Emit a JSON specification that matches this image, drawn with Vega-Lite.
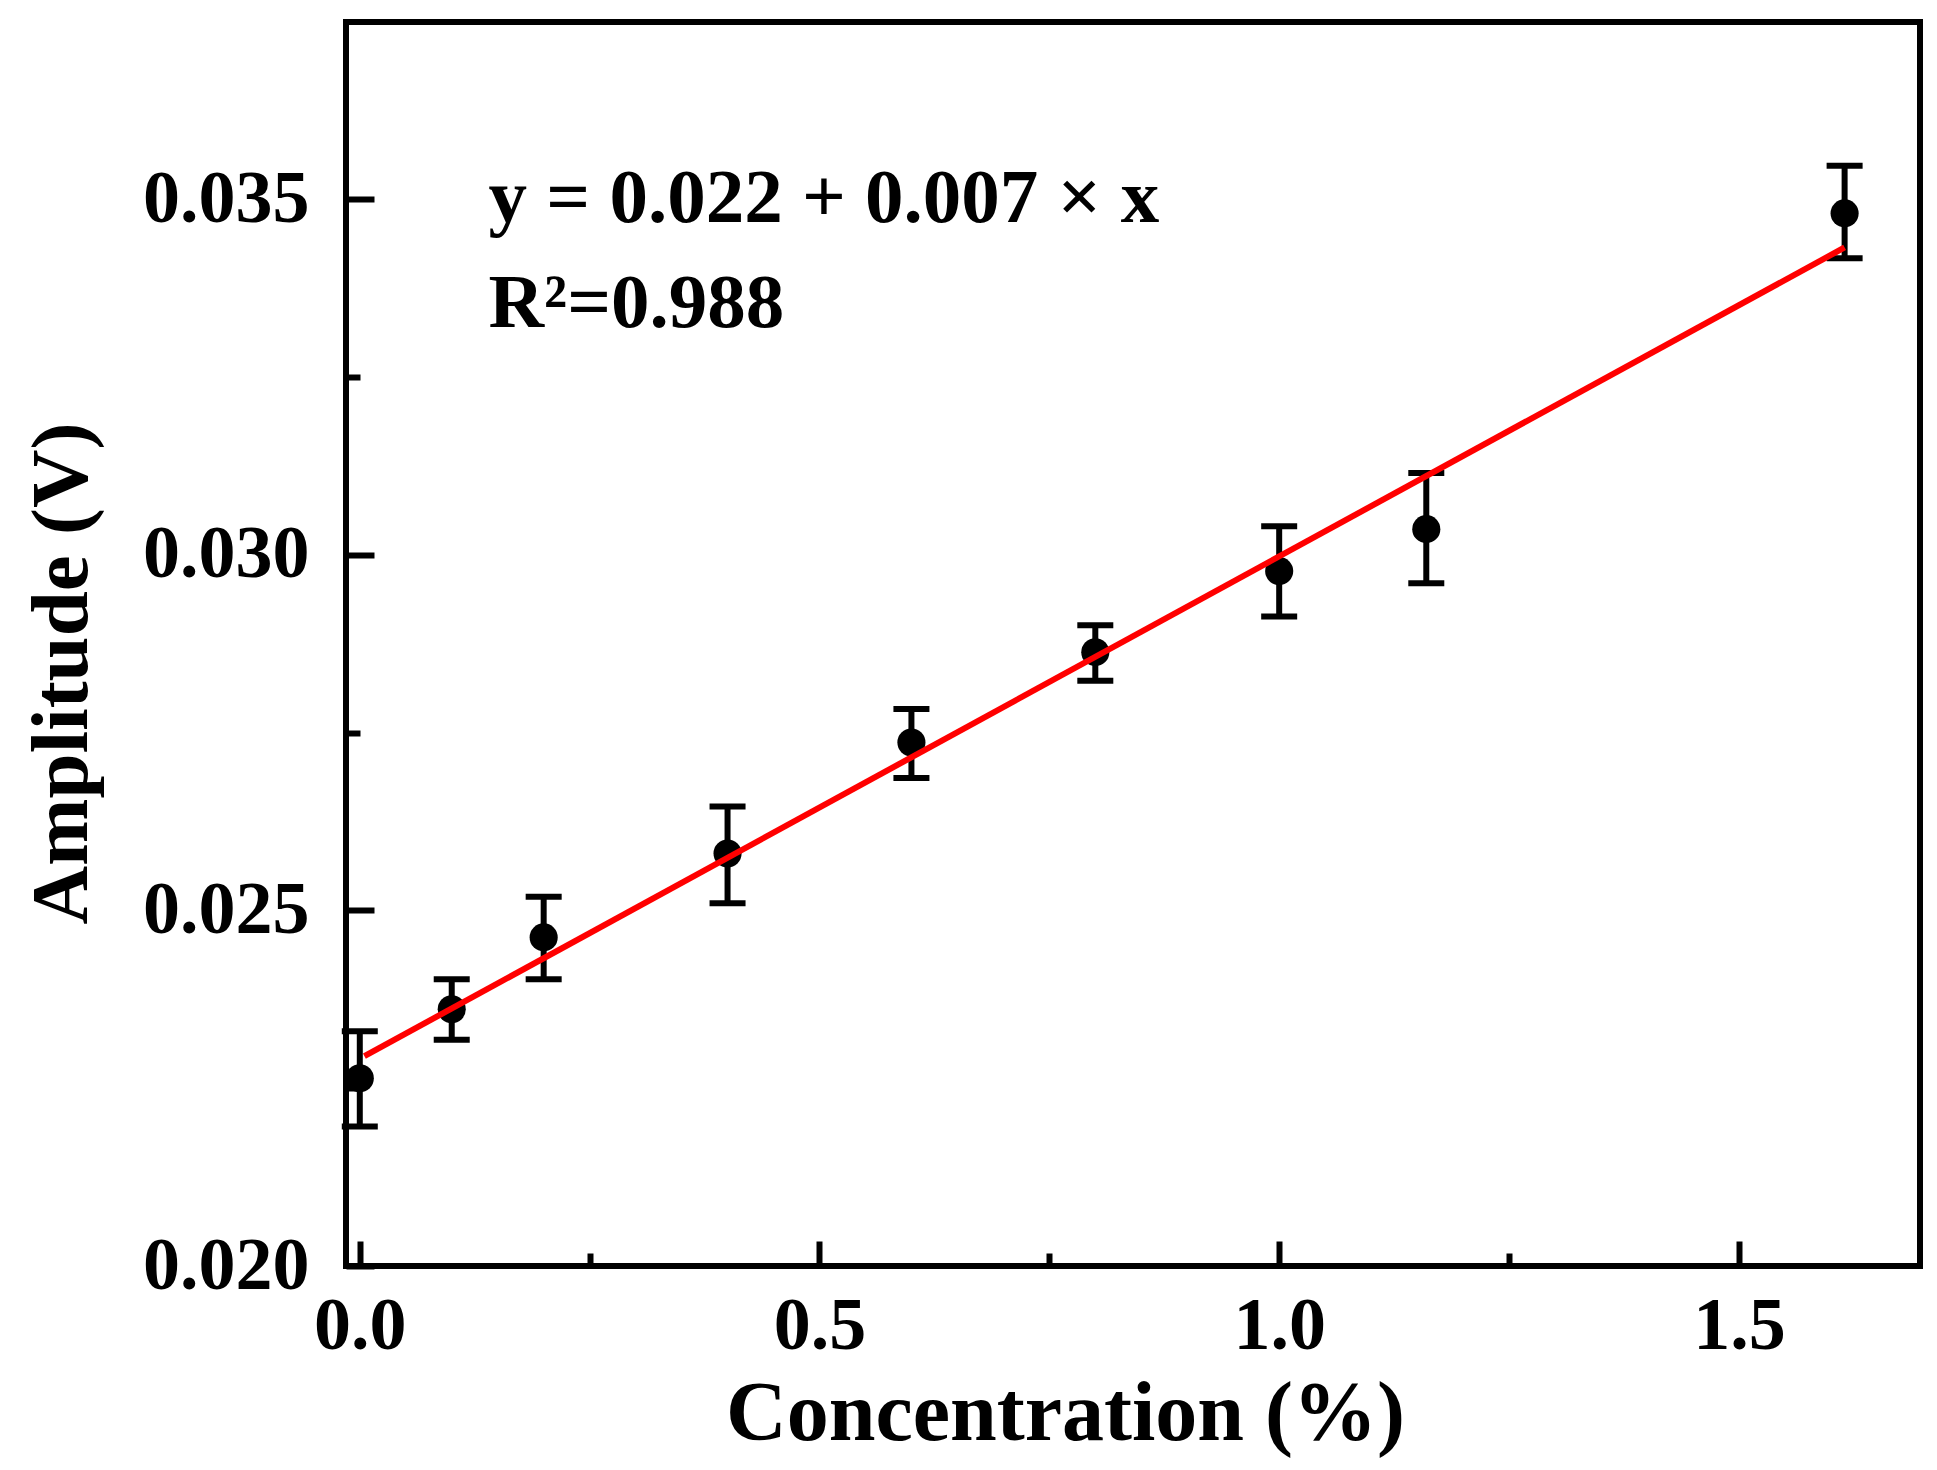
{
  "$schema": "https://vega.github.io/schema/vega-lite/v6.json",
  "width": 1574,
  "height": 1244,
  "autosize": {"type": "none"},
  "padding": {"left": 346, "top": 22, "right": 17, "bottom": 204},
  "background": "white",
  "config": {
    "view": {"stroke": "black", "strokeWidth": 6},
    "axis": {
      "domain": false,
      "grid": false,
      "tickColor": "black",
      "tickWidth": 6,
      "labelColor": "black",
      "labelFont": "Liberation Serif",
      "labelFontWeight": "bold",
      "labelFontSize": 74,
      "titleColor": "black",
      "titleFont": "Liberation Serif",
      "titleFontWeight": "bold",
      "titleFontSize": 84
    }
  },
  "datasets": {
    "measurements": [
      {"conc": 0.0, "amp": 0.02264, "lo": 0.02196, "hi": 0.0233},
      {"conc": 0.1, "amp": 0.02361, "lo": 0.02318, "hi": 0.02403},
      {"conc": 0.2, "amp": 0.02462, "lo": 0.02403, "hi": 0.02519},
      {"conc": 0.4, "amp": 0.0258, "lo": 0.0251, "hi": 0.02646},
      {"conc": 0.6, "amp": 0.02736, "lo": 0.02686, "hi": 0.02783},
      {"conc": 0.8, "amp": 0.02863, "lo": 0.02823, "hi": 0.02901},
      {"conc": 1.0, "amp": 0.02977, "lo": 0.02913, "hi": 0.0304},
      {"conc": 1.16, "amp": 0.03036, "lo": 0.0296, "hi": 0.03115},
      {"conc": 1.615, "amp": 0.0348, "lo": 0.03417, "hi": 0.03547}
    ],
    "fit": [
      {"conc": 0.005, "amp": 0.02295},
      {"conc": 1.615, "amp": 0.03432}
    ],
    "notes": [
      {"conc": 0.14, "amp": 0.03468, "label": "y = 0.022 + 0.007 × x"},
      {"conc": 0.14, "amp": 0.0332, "label": "R²=0.988"}
    ]
  },
  "layer": [
    {
      "data": {"name": "measurements"},
      "mark": {
        "type": "errorbar",
        "color": "black",
        "opacity": 1,
        "rule": {"strokeWidth": 6, "opacity": 1},
        "ticks": {"size": 36, "thickness": 6, "color": "black", "opacity": 1}
      },
      "encoding": {
        "x": {
          "field": "conc",
          "type": "quantitative",
          "scale": {"domain": [-0.015, 1.697], "nice": false, "zero": false},
          "axis": {
            "title": "Concentration (%)",
            "values": [0, 0.25, 0.5, 0.75, 1, 1.25, 1.5],
            "labelExpr": "datum.value % 0.5 === 0 ? format(datum.value, '.1f') : ''",
            "tickSize": {"condition": {"test": "datum.value % 0.5 === 0", "value": -25}, "value": -13},
            "labelPadding": 49,
            "titleX": 719,
            "titleY": 173,
            "titleBaseline": "alphabetic",
            "titleAlign": "center"
          }
        },
        "y": {
          "field": "lo",
          "type": "quantitative",
          "scale": {"domain": [0.02, 0.03749], "nice": false, "zero": false},
          "axis": {
            "title": "Amplitude (V)",
            "values": [0.02, 0.0225, 0.025, 0.0275, 0.03, 0.0325, 0.035],
            "labelExpr": "abs(datum.value * 200 - round(datum.value * 200)) < 0.001 ? format(datum.value, '.3f') : ''",
            "tickSize": {"condition": {"test": "abs(datum.value * 200 - round(datum.value * 200)) < 0.001", "value": -28}, "value": -14},
            "labelPadding": 65,
            "titleFontSize": 81,
            "titleX": -260,
            "titleY": 651,
            "titleBaseline": "alphabetic",
            "titleAlign": "center",
            "titleAngle": -90
          }
        },
        "y2": {"field": "hi"}
      }
    },
    {
      "data": {"name": "measurements"},
      "mark": {"type": "point", "filled": true, "shape": "circle", "size": 790, "color": "black", "opacity": 1},
      "encoding": {
        "x": {"field": "conc", "type": "quantitative"},
        "y": {"field": "amp", "type": "quantitative"}
      }
    },
    {
      "data": {"name": "fit"},
      "mark": {"type": "line", "color": "#ff0000", "strokeWidth": 6},
      "encoding": {
        "x": {"field": "conc", "type": "quantitative"},
        "y": {"field": "amp", "type": "quantitative"}
      }
    },
    {
      "data": {"name": "notes"},
      "mark": {"type": "text", "align": "left", "baseline": "alphabetic", "font": "Liberation Serif", "fontWeight": "bold", "fontSize": 77, "color": "black"},
      "encoding": {
        "x": {"field": "conc", "type": "quantitative"},
        "y": {"field": "amp", "type": "quantitative"},
        "text": {"field": "label"}
      }
    }
  ]
}
